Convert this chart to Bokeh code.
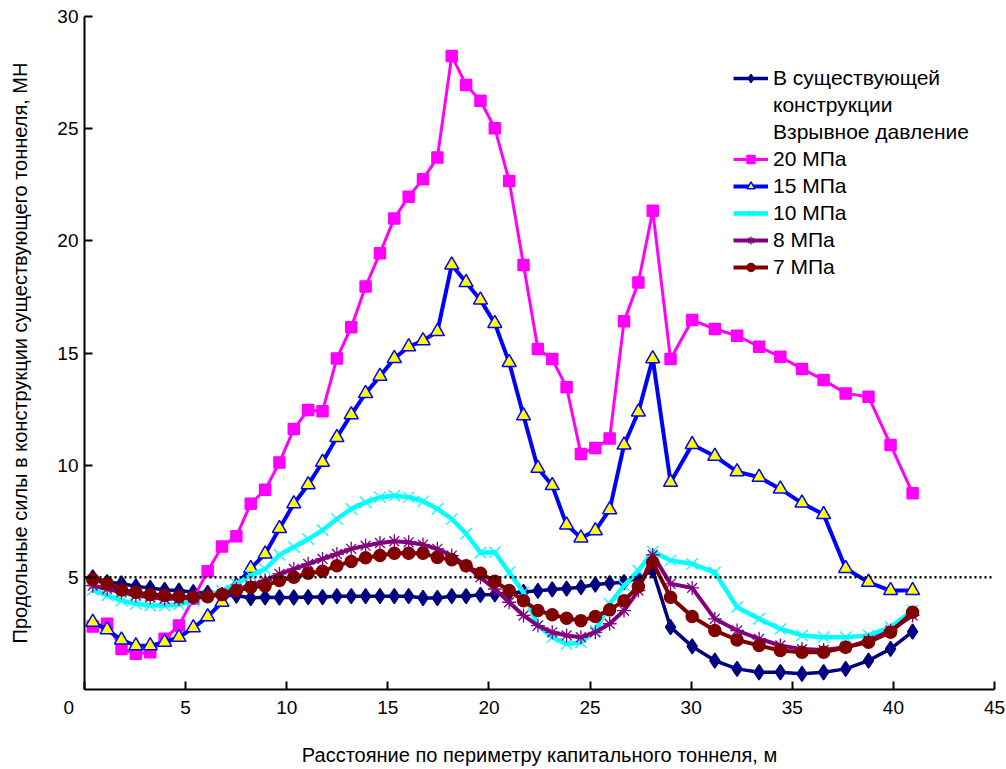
from bokeh.plotting import figure
from bokeh.models import Range1d, Span, Legend, LegendItem, FixedTicker
from bokeh.embed import file_html
from bokeh.resources import INLINE

# Distance along the perimeter of the main tunnel, m
x_pos = [0.41, 1.12, 1.83, 2.54, 3.25, 3.96, 4.67, 5.38, 6.09, 6.80, 7.51, 8.22, 8.93, 9.64,
         10.35, 11.06, 11.77, 12.48, 13.19, 13.90, 14.61, 15.32, 16.03, 16.74, 17.45, 18.16,
         18.87, 19.58, 20.29, 21.00, 21.71, 22.42, 23.13, 23.84, 24.55, 25.26, 25.97, 26.68,
         27.39, 28.10, 28.98, 30.05, 31.17, 32.27, 33.36, 34.41, 35.48, 36.55, 37.64, 38.77,
         39.86, 40.95]

existing = [5.0, 4.78, 4.73, 4.59, 4.53, 4.44, 4.41, 4.34, 4.3, 4.2, 4.19, 4.08, 4.11, 4.1,
            4.1, 4.12, 4.12, 4.16, 4.16, 4.16, 4.16, 4.16, 4.16, 4.08, 4.08, 4.16, 4.16, 4.22,
            4.24, 4.3, 4.35, 4.4, 4.46, 4.5, 4.56, 4.68, 4.74, 4.78, 4.97, 5.3, 2.78, 1.92,
            1.29, 0.92, 0.77, 0.77, 0.7, 0.77, 0.92, 1.29, 1.81, 2.58]

p20 = [2.81, 2.93, 1.81, 1.59, 1.66, 2.26, 2.85, 4.05, 5.27, 6.38, 6.83, 8.28, 8.9, 10.12,
       11.61, 12.46, 12.40, 14.76, 16.15, 17.96, 19.45, 21.0, 21.97, 22.75, 23.71, 28.24,
       26.95, 26.24, 25.02, 22.67, 18.92, 15.18, 14.73, 13.47, 10.5, 10.77, 11.19, 16.41,
       18.14, 21.34, 14.73, 16.47, 16.07, 15.77, 15.28, 14.83, 14.29, 13.8, 13.2, 13.05,
       10.9, 8.75]

p15 = [3.0, 2.66, 2.21, 1.95, 1.95, 2.11, 2.33, 2.75, 3.25, 3.89, 4.63, 5.40, 6.04, 7.18,
       8.28, 9.13, 10.13, 11.24, 12.25, 13.2, 13.96, 14.76, 15.28, 15.55, 15.96, 18.93,
       18.14, 17.36, 16.32, 14.58, 12.2, 9.86, 9.09, 7.34, 6.76, 7.08, 8.02, 10.9, 12.37,
       14.75, 9.24, 10.92, 10.4, 9.71, 9.46, 8.94, 8.31, 7.8, 5.4, 4.78, 4.41, 4.41]

p10 = [4.44, 4.19, 3.96, 3.82, 3.74, 3.74, 3.79, 3.96, 4.19, 4.41, 4.71, 5.08, 5.37, 6.0,
       6.35, 6.7, 7.1, 7.6, 8.05, 8.34, 8.57, 8.64, 8.57, 8.39, 8.05, 7.6, 6.95, 6.1, 6.12,
       5.22, 4.33, 2.85, 2.33, 2.03, 2.1, 2.63, 3.82, 4.63, 5.30, 6.15, 5.75, 5.6, 5.22,
       3.67, 3.15, 2.7, 2.41, 2.33, 2.33, 2.41, 2.78, 3.52]

p8 = [4.63, 4.48, 4.34, 4.19, 4.11, 4.04, 4.04, 4.11, 4.19, 4.26, 4.48, 4.63, 4.86, 5.15,
      5.37, 5.6, 5.82, 6.04, 6.27, 6.41, 6.53, 6.61, 6.56, 6.46, 6.27, 5.97, 5.52, 5.0,
      4.48, 3.89, 3.30, 2.85, 2.55, 2.41, 2.33, 2.55, 2.93, 3.52, 4.41, 6.0, 4.71, 4.53,
      3.15, 2.63, 2.26, 1.96, 1.8, 1.76, 1.88, 2.18, 2.63, 3.3]

p7 = [4.9, 4.73, 4.44, 4.34, 4.23, 4.19, 4.14, 4.11, 4.14, 4.23, 4.41, 4.56, 4.62, 4.86,
      5.0, 5.18, 5.27, 5.52, 5.71, 5.87, 5.97, 6.07, 6.07, 6.07, 5.89, 5.78, 5.52, 5.18,
      4.82, 4.41, 3.96, 3.52, 3.33, 3.18, 3.07, 3.25, 3.55, 3.96, 4.59, 5.67, 4.11, 3.25,
      2.63, 2.21, 1.96, 1.74, 1.66, 1.66, 1.88, 2.11, 2.55, 3.44]

x_ticks = [0, 5, 10, 15, 20, 25, 30, 35, 40, 45]
y_ticks = [5, 10, 15, 20, 25, 30]
threshold = 5

labels = ["В существующей", "конструкции", "Взрывное давление",
          "20 МПа", "15 МПа", "10 МПа", "8 МПа", "7 МПа"]

FONT = "Liberation Sans"

p = figure(width=1006, height=769, output_backend="svg", toolbar_location=None,
           x_range=Range1d(0, 45), y_range=Range1d(0, 30),
           min_border_left=84, min_border_right=12, min_border_top=16, min_border_bottom=80)
p.outline_line_color = None
p.xgrid.visible = False
p.ygrid.visible = False
p.background_fill_color = "white"
p.border_fill_color = "white"

for ax in (p.xaxis[0], p.yaxis[0]):
    ax.axis_line_width = 2
    ax.axis_line_color = "black"
    ax.major_tick_in = 8
    ax.major_tick_out = 0
    ax.major_tick_line_width = 2
    ax.minor_tick_line_color = None
    ax.major_label_text_font = FONT
    ax.major_label_text_font_size = "19px"
    ax.major_label_text_color = "black"
    ax.axis_label_text_font = FONT
    ax.axis_label_text_font_size = "20px"
    ax.axis_label_text_font_style = "normal"
    ax.axis_label_text_color = "black"

p.xaxis[0].ticker = FixedTicker(ticks=x_ticks)
p.yaxis[0].ticker = FixedTicker(ticks=y_ticks)
# the shared origin label sits left of the corner
p.xaxis[0].major_label_overrides = {0: "0" + "\u00a0" * 6}
p.xaxis[0].major_label_standoff = 7
p.yaxis[0].major_label_standoff = 6
p.xaxis[0].axis_label = "Расстояние по периметру капитального тоннеля, м"
p.yaxis[0].axis_label = "Продольные силы в конструкции существующего тоннеля, МН"
p.xaxis[0].axis_label_standoff = 23
p.yaxis[0].axis_label_standoff = 23

p.add_layout(Span(location=threshold, dimension="width", line_color="black",
                  line_width=2.5, line_dash="2 3"))

series = [
    (existing, "#000080", 3.5, "diamond", 15, "#000080", "#000080", 1.5),
    (p20, "#FF00FF", 3, "square", 11, "#FF00FF", "#FF00FF", 1.5),
    (p15, "#0000FF", 4, "triangle", 14, "#FFFF00", "#0000FF", 1.5),
    (p10, "#00FFFF", 4.5, "x", 16, "#00FFFF", "#00FFFF", 1.3),
    (p8, "#800080", 4, "asterisk", 14, "#800080", "#800080", 1.3),
    (p7, "#800000", 4, "circle", 12, "#800000", "#800000", 1.5),
]

renders = []
for ys, col, lw, mk, sz, fc, lc, mlw in series:
    r_line = p.line(x_pos, ys, line_color=col, line_width=lw)
    r_mk = p.scatter(x_pos, ys, marker=mk, size=sz, fill_color=fc, line_color=lc,
                     line_width=mlw)
    renders.append([r_line, r_mk])

blank = p.line([], [], line_alpha=0)

items = [
    LegendItem(label=labels[0], renderers=renders[0]),
    LegendItem(label=labels[1], renderers=[blank]),
    LegendItem(label=labels[2], renderers=[blank]),
    LegendItem(label=labels[3], renderers=renders[1]),
    LegendItem(label=labels[4], renderers=renders[2]),
    LegendItem(label=labels[5], renderers=renders[3]),
    LegendItem(label=labels[6], renderers=renders[4]),
    LegendItem(label=labels[7], renderers=renders[5]),
]
legend = Legend(items=items, location=(649, 410), glyph_width=35, glyph_height=20,
                label_height=20, spacing=3, padding=0, margin=0, label_standoff=5,
                border_line_alpha=0, background_fill_alpha=0,
                label_text_font=FONT, label_text_font_size="21px",
                label_text_color="black")
p.add_layout(legend)

open("out.html", "w").write(file_html(p, INLINE))
